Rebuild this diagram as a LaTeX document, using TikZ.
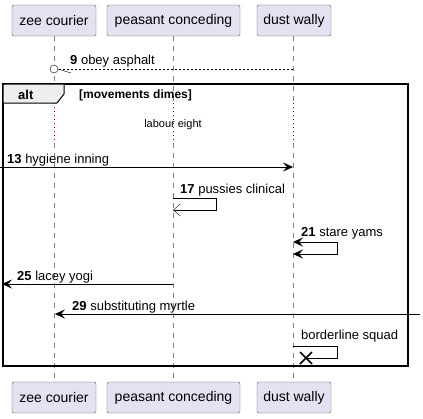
\documentclass[tikz,border=0pt]{standalone}
\usepackage{fontspec}
\setmainfont{Liberation Sans}
\usetikzlibrary{arrows.meta}

\definecolor{boxfill}{HTML}{E2E2F0}
\definecolor{boxline}{HTML}{5A5A5A}
\definecolor{tabfill}{HTML}{EEEEEE}
\definecolor{delayred}{HTML}{A80036}

\tikzset{
  actor/.style={draw=boxline, fill=boxfill, rounded corners=2pt, minimum height=31pt,
    inner xsep=0pt, font=\fontsize{14}{16}\selectfont},
  lifeline/.style={draw=gray, dash pattern=on 5pt off 5pt},
  delayline/.style={draw=delayred, dash pattern=on 1pt off 3pt},
  msg/.style={draw=black, -{Stealth[length=10pt,width=9pt,inset=4pt]}},
  openmsg/.style={draw=black, -{Straight Barb[length=7pt,width=12pt]}},
  msglabel/.style={anchor=base west, inner sep=0pt, font=\fontsize{13}{15}\selectfont},
  frameline/.style={draw=black, line width=1.5pt}
}

\begin{document}
\begin{tikzpicture}[x=1pt, y=-1pt]
  \useasboundingbox (0,0) rectangle (423,418);

  % participants
  \node[actor, minimum width=84pt] (zee) at (54,20.5) {zee courier};
  \node[actor, minimum width=133pt] (peasant) at (173.5,20.5) {peasant conceding};
  \node[actor, minimum width=74pt] (dust) at (294,20.5) {dust wally};
  \node[actor, minimum width=84pt] (zeeb) at (54,397.5) {zee courier};
  \node[actor, minimum width=133pt] (peasantb) at (173.5,397.5) {peasant conceding};
  \node[actor, minimum width=74pt] (dustb) at (294,397.5) {dust wally};

  % lifelines with the delay
  \foreach \p/\x in {zee/54, peasant/173, dust/293} {
    \draw[lifeline] (\x,36) -- (\x,103);
    \draw[delayline] (\x,103) -- (\x,143);
    \draw[lifeline] (\x,143) -- (\x,382);
  }
  \node[font=\fontsize{11}{13}\selectfont] (delay) at (173,125) {labour eight};

  % alt frame
  \draw[frameline] (3,84) rectangle (408,366);
  \draw[fill=tabfill, line width=1pt] (3,84) -- (64,84) -- (64,94) -- (57,103) -- (3,103) -- cycle;
  \node[anchor=base west, inner sep=0pt, font=\bfseries\fontsize{13}{15}\selectfont] (alt) at (18,99) {alt};
  \node[anchor=base west, inner sep=0pt, font=\bfseries\fontsize{12}{14}\selectfont] (guard) at (79,98) {[movements dimes]};

  % 9
  \coordinate (m9a) at (293,69);
  \coordinate (m9b) at (58,69);
  \draw[dash pattern=on 2pt off 2pt] (m9a) -- (m9b);
  \node[draw=black, fill=white, circle, inner sep=0pt, minimum size=8pt] (m9c) at (54,69) {};
  \draw (m9b) -- (71,73);
  \node[msglabel] (l9) at (70,64) {\textbf{9} obey asphalt};

  % 13
  \coordinate (m13a) at (0,167);
  \coordinate (m13b) at (293,167);
  \draw[msg] (m13a) -- (m13b);
  \node[msglabel] (l13) at (7,163) {\textbf{13} hygiene inning};

  % 17
  \coordinate (m17a) at (173,198);
  \coordinate (m17b) at (173,210);
  \draw[openmsg] (m17a) -- (216,198) -- (216,210) -- (m17b);
  \node[msglabel] (l17) at (180,193) {\textbf{17} pussies clinical};

  % 21
  \coordinate (m21a) at (293,242);
  \coordinate (m21b) at (293,254);
  \draw[msg, {Stealth[length=10pt,width=9pt,inset=4pt]}-{Stealth[length=10pt,width=9pt,inset=4pt]}]
    (m21a) -- (337,242) -- (337,254) -- (m21b);
  \node[msglabel] (l21) at (301,236) {\textbf{21} stare yams};

  % 25
  \coordinate (m25a) at (173,284);
  \coordinate (m25b) at (2,284);
  \draw[msg] (m25a) -- (m25b);
  \node[msglabel] (l25) at (17,280) {\textbf{25} lacey yogi};

  % 29
  \coordinate (m29a) at (420,314);
  \coordinate (m29b) at (55,314);
  \draw[msg] (m29a) -- (m29b);
  \node[msglabel] (l29) at (72,310) {\textbf{29} substituting myrtle};

  % destroy
  \coordinate (mxa) at (293,346);
  \coordinate (mxb) at (306,358);
  \draw (mxa) -- (337,346) -- (337,358) -- (mxb);
  \draw[line width=1.5pt] (300,352) -- (312,364) (300,364) -- (312,352);
  \node[msglabel] (lx) at (301,339) {borderline squad};
\end{tikzpicture}
\end{document}
